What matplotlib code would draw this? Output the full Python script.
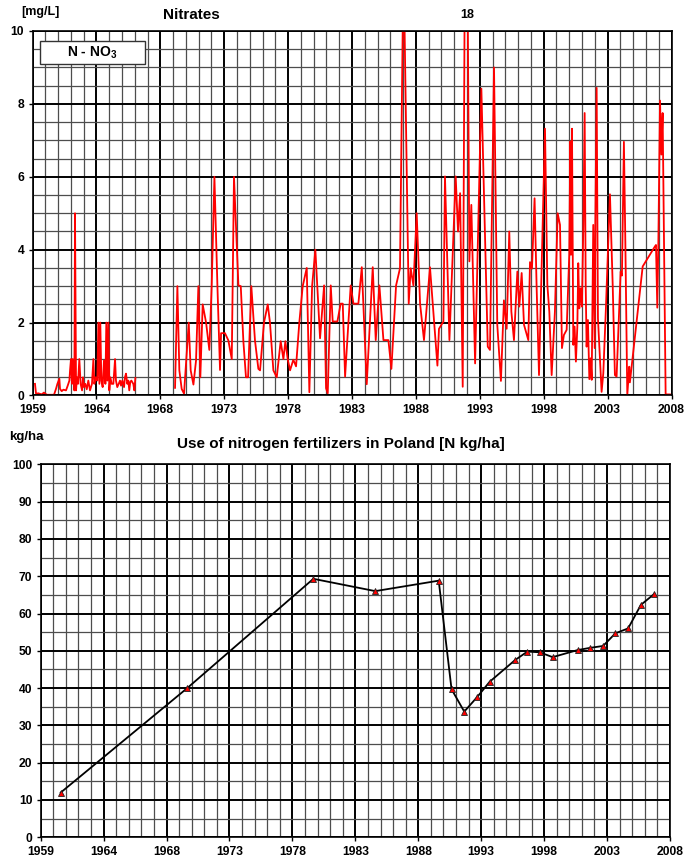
import numpy as np
import matplotlib
matplotlib.use('Agg')
import matplotlib.pyplot as plt
from matplotlib.patches import Rectangle

plt.rcParams['font.family'] = ['Liberation Sans', 'DejaVu Sans']
plt.rcParams['font.weight'] = 'bold'
plt.rcParams['mathtext.fontset'] = 'custom'
plt.rcParams['mathtext.bf'] = 'Liberation Sans:bold'
plt.rcParams['mathtext.rm'] = 'Liberation Sans:bold'

# axis labels (evenly spaced ticks, Excel-style date axis)
year_labels = ['1959', '1964', '1968', '1973', '1978', '1983',
               '1988', '1993', '1998', '2003', '2008']

# nitrates N-NO3 [mg/L], first series 1959-1966
nit_year_a = [1959.19, 1959.27, 1959.45, 1959.70, 1959.88, 1960.09, 1960.34, 1960.65,
              1960.80, 1960.91, 1961.06, 1961.11, 1961.24, 1961.37, 1961.57, 1961.70,
              1961.83, 1961.88, 1961.95, 1962.03, 1962.08, 1962.16, 1962.21, 1962.26,
              1962.34, 1962.41, 1962.49, 1962.59, 1962.69, 1962.80, 1962.87, 1962.95,
              1963.05, 1963.16, 1963.28, 1963.41, 1963.56, 1963.67, 1963.74, 1963.85,
              1963.97, 1964.05, 1964.13, 1964.20, 1964.28, 1964.38, 1964.48, 1964.59,
              1964.66, 1964.74, 1964.82, 1964.89, 1964.97, 1965.07, 1965.20, 1965.33,
              1965.40, 1965.50, 1965.61, 1965.71, 1965.79, 1965.89, 1966.02, 1966.09,
              1966.17, 1966.27, 1966.35, 1966.42, 1966.50, 1966.58, 1966.73, 1966.81,
              1966.89]
nit_val_a = [0.32, 0.05, 0.06, 0.03, 0.08, 0.02, 0.02, 0.02,
             0.18, 0.32, 0.46, 0.18, 0.12, 0.16, 0.14, 0.27,
             0.41, 0.69, 1.0, 0.32, 1.0, 0.5, 0.14, 5.0,
             0.14, 0.5, 0.32, 1.0, 0.32, 0.14, 0.5, 0.23,
             0.32, 0.17, 0.41, 0.14, 0.32, 1.0, 0.32, 0.5,
             0.41, 2.0, 0.32, 2.0, 0.41, 0.23, 0.96, 0.32,
             2.0, 0.41, 2.0, 0.14, 0.5, 0.32, 0.32, 1.0,
             0.41, 0.23, 0.32, 0.41, 0.27, 0.41, 0.23, 0.5,
             0.6, 0.32, 0.41, 0.14, 0.37, 0.41, 0.32, 0.14,
             0.48]

# second series 1969-2008
nit_year_b = [1969.93, 1970.11, 1970.26, 1970.44, 1970.62, 1970.98, 1971.13, 1971.34,
              1971.54, 1971.72, 1971.87, 1972.05, 1972.31, 1972.56, 1972.74, 1972.95,
              1973.18, 1973.38, 1973.46, 1973.76, 1974.02, 1974.28, 1974.45, 1974.79,
              1974.97, 1975.17, 1975.37, 1975.53, 1975.78, 1976.06, 1976.32, 1976.45,
              1976.75, 1977.04, 1977.21, 1977.47, 1977.73, 1978.03, 1978.24, 1978.39,
              1978.57, 1978.75, 1979.00, 1979.21, 1979.46, 1979.72, 1980.03, 1980.23,
              1980.44, 1980.69,
              1981.05, 1981.36, 1981.51, 1981.64, 1981.87, 1982.02, 1982.38, 1982.63,
              1982.79, 1982.97, 1983.40, 1983.61, 1983.99, 1984.25, 1984.63, 1985.09,
              1985.32, 1985.60, 1985.91, 1986.29, 1986.52, 1986.88, 1987.18, 1987.45,
              1987.85, 1988.00, 1988.21, 1988.46, 1988.72, 1989.02, 1989.48, 1990.05,
              1990.17, 1990.51, 1990.63, 1990.97, 1991.45, 1991.63, 1991.79, 1991.99,
              1992.24, 1992.50, 1992.65, 1992.94, 1993.42, 1993.91,
              1994.08, 1994.39, 1994.64, 1994.92, 1995.15, 1995.36, 1995.56, 1995.72,
              1995.92, 1996.18, 1996.33, 1996.51, 1996.69, 1997.02, 1997.15, 1997.30,
              1997.50, 1997.66, 1997.84, 1998.30, 1998.48, 1998.63, 1998.81, 1999.06,
              1999.27, 1999.45, 1999.60, 1999.75, 1999.96, 2000.16, 2000.24, 2000.29,
              2000.37, 2000.47, 2000.57, 2000.67, 2000.78, 2000.85, 2000.93, 2001.03,
              2001.13, 2001.24, 2001.34, 2001.42, 2001.49, 2001.59, 2001.70, 2001.80,
              2001.88, 2002.00, 2002.11, 2002.16, 2002.26, 2002.36, 2002.51, 2002.64,
              2002.77, 2002.97, 2003.28, 2003.49, 2003.66, 2003.79, 2004.10, 2004.20,
              2004.35, 2004.46, 2004.61, 2004.76, 2004.81, 2005.79, 2006.73, 2006.81,
              2006.91, 2006.99, 2007.12, 2007.22, 2007.32, 2007.55, 2007.88]
nit_val_b = [0.21, 3.0, 0.69, 0.18, 0.05, 2.0, 0.69, 0.3,
             0.96, 3.0, 0.5, 2.5, 2.0, 1.25, 3.0, 6.0,
             3.0, 0.7, 1.71, 1.71, 1.51, 1.0, 6.0, 3.02,
             3.0, 1.49, 0.5, 0.5, 3.0, 1.51, 0.73, 0.69,
             2.0, 2.5, 2.0, 0.69, 0.5, 1.49, 1.0, 1.49,
             1.0, 0.69, 0.98, 0.8, 2.0, 3.0, 3.5, 0.09,
             3.0, 4.0,
             1.57, 3.02, 0.2, 0.06, 3.02, 2.03, 2.03, 2.52,
             2.52, 0.52, 3.02, 2.52, 2.52, 3.52, 0.31, 3.52,
             1.52, 3.02, 1.52, 1.52, 0.73, 3.02, 3.49, 12.0,
             2.52, 3.49, 3.02, 5.0, 2.52, 1.52, 3.52, 0.82,
             1.83, 2.03, 6.01, 1.52, 6.01, 4.5, 5.55, 0.24,
             18.0, 3.68, 5.23, 0.88, 8.42, 1.34,
             1.25, 9.0, 1.94, 0.4, 2.61, 1.83, 4.5, 2.3,
             1.52, 3.4, 2.44, 3.36, 1.94, 1.52, 3.66, 3.48,
             5.41, 2.94, 0.56, 7.32, 3.04, 2.3, 0.56, 2.3,
             5.0, 4.68, 1.3, 1.66, 1.8, 3.86, 6.97, 3.86,
             7.32, 1.39, 1.89, 0.93, 1.89, 3.63, 2.39, 2.94,
             2.44, 4.68, 7.75, 3.04, 1.34, 2.07, 0.45, 1.02,
             0.43, 4.68, 1.3, 4.73, 8.44, 2.12, 1.02, 0.1,
             0.61, 2.39, 5.52, 3.04, 0.56, 0.52, 3.4, 3.29,
             6.96, 4.22, 0.01, 0.79, 0.36, 3.54, 4.09, 4.13,
             2.41, 4.13, 8.09, 6.61, 7.75, 0.03, 0.03]

# use of nitrogen fertilizers in Poland [N kg/ha]
fert_year = [1960.56, 1970.41, 1980.23, 1985.05, 1989.99, 1990.99, 1991.98, 1992.96,
             1993.96, 1995.93, 1996.90, 1997.86, 1998.86, 2000.81, 2001.80, 2002.79,
             2003.75, 2004.74, 2005.73, 2006.72]
fert_val = [12.0, 40.0, 69.3, 66.0, 68.8, 39.7, 33.7, 37.5,
            41.7, 47.5, 49.8, 49.6, 48.3, 50.2, 50.8, 51.3,
            54.7, 56.0, 62.3, 65.1]

W, H = 686, 867
fig = plt.figure(figsize=(W / 100, H / 100), dpi=100)
ax1 = fig.add_axes([32.5 / W, 1 - 395.5 / H, 639 / W, 364.5 / H])
ax2 = fig.add_axes([40.7 / W, 1 - 837.3 / H, 629.3 / W, 373 / H])

xmaj = np.linspace(1959, 2008, 11)
xmin = np.linspace(1959, 2008, 51)


def style(ax, ymaj, ymin):
    ax.set_xlim(1959, 2008)
    ax.set_xticks(xmaj)
    ax.set_xticklabels(year_labels)
    ax.set_xticks(xmin, minor=True)
    ax.set_yticks(ymaj)
    ax.set_yticks(ymin, minor=True)
    ax.set_ylim(ymaj[0], ymaj[-1])
    ax.set_axisbelow(True)
    ax.grid(which='minor', color='0.3', lw=0.9)
    ax.grid(which='major', color='black', lw=1.4)
    ax.tick_params(which='major', direction='out', length=3, width=1,
                   labelsize=8.7, pad=3)
    ax.tick_params(which='minor', length=0)
    for s in ax.spines.values():
        s.set_color('black')
        s.set_linewidth(1.2)


style(ax1, np.arange(0, 11, 2), np.arange(0, 10.5, 0.5))
style(ax2, np.arange(0, 101, 10), np.arange(0, 101, 5))

ax1.plot(nit_year_a, nit_val_a, color='red', lw=1.3)
ax1.plot(nit_year_b, nit_val_b, color='red', lw=1.3)

ax1.add_patch(Rectangle((0.0117, 0.9087), 0.165, 0.0647, transform=ax1.transAxes,
                        facecolor='white', edgecolor='#333333', lw=1, zorder=5))
ax1.text(0.094, 0.941, r'N - NO$_\mathbf{3}$', transform=ax1.transAxes,
         ha='center', va='center', fontsize=10, weight='bold', zorder=6)

ax2.plot(fert_year, fert_val, color='black', lw=1.3, marker='^', markersize=4.5,
         markerfacecolor='red', markeredgecolor='#222222', markeredgewidth=0.6)

fig.text(191.5 / W, 1 - 15 / H, 'Nitrates', ha='center', va='center', fontsize=11)
fig.text(467.5 / W, 1 - 15 / H, '18', ha='center', va='center', fontsize=9)
fig.text(40.5 / W, 1 - 12 / H, '[mg/L]', ha='center', va='center', fontsize=9)
fig.text(26.5 / W, 1 - 437 / H, 'kg/ha', ha='center', va='center', fontsize=9.5)
fig.text(341 / W, 1 - 444 / H, 'Use of nitrogen fertilizers in Poland [N kg/ha]',
         ha='center', va='center', fontsize=11)

plt.savefig('out.png', dpi=100)
